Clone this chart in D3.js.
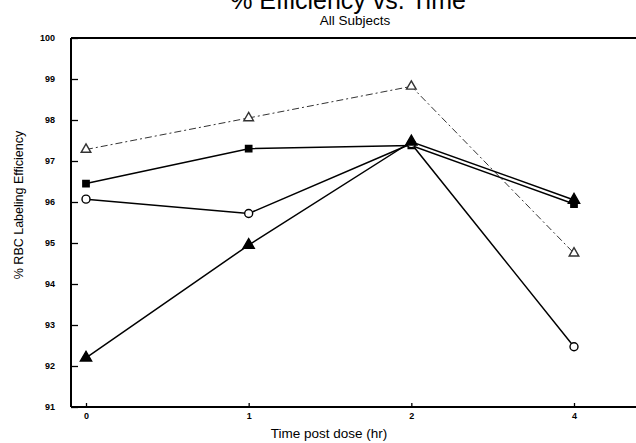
<!DOCTYPE html>
<html>
<head>
<meta charset="utf-8">
<script src="https://cdn.jsdelivr.net/npm/d3@7"></script>
<style>
  body { margin: 0; background: #fff; }
  svg { display: block; font-family: "Liberation Sans", Arial, sans-serif; }
</style>
</head>
<body>
<div id="chart"></div>
<script>
const timeLabels = ["0", "1", "2", "4"];
const yTicks = [91, 92, 93, 94, 95, 96, 97, 98, 99, 100];

// one array per subject group
const openTriangle = [97.28, 98.05, 98.82, 94.75];
const filledSquare = [96.45, 97.3, 97.38, 95.95];
const openCircle = [96.07, 95.72, 97.42, 92.47];
const filledTriangle = [92.2, 94.95, 97.47, 96.05];

const width = 636;
const height = 443;
const axisLeftX = 71;
const axisBottomY = 407;
const axisTopY = 38;

const svg = d3.select("#chart").append("svg")
  .attr("width", width)
  .attr("height", height);

const x = d3.scalePoint()
  .domain(timeLabels)
  .range([86, 574]);

const y = d3.scaleLinear()
  .domain([91, 100])
  .range([axisBottomY, axisTopY]);

// frame: left, bottom and top lines (no right edge in the original)
svg.append("line")
  .attr("x1", axisLeftX).attr("x2", axisLeftX)
  .attr("y1", axisTopY).attr("y2", axisBottomY)
  .attr("stroke", "#000").attr("stroke-width", 2);
svg.append("line")
  .attr("x1", axisLeftX).attr("x2", width)
  .attr("y1", axisBottomY).attr("y2", axisBottomY)
  .attr("stroke", "#000").attr("stroke-width", 2);
svg.append("line")
  .attr("x1", axisLeftX).attr("x2", width)
  .attr("y1", axisTopY).attr("y2", axisTopY)
  .attr("stroke", "#000").attr("stroke-width", 2);

const yAxis = svg.append("g")
  .attr("transform", `translate(${axisLeftX},0)`)
  .call(d3.axisLeft(y).tickValues(yTicks).tickSize(-7).tickSizeOuter(0).tickPadding(16));
yAxis.select(".domain").remove();

const xAxis = svg.append("g")
  .attr("transform", `translate(0,${axisBottomY})`)
  .call(d3.axisBottom(x).tickSize(-4).tickSizeOuter(0).tickPadding(6));
xAxis.select(".domain").remove();

svg.selectAll(".tick line").attr("stroke", "#000").attr("stroke-width", 1.3);
svg.selectAll(".tick text")
  .attr("fill", "#000")
  .style("font-size", "9px")
  .style("font-weight", "bold");

// titles (the main title is clipped by the top edge in the original)
svg.append("text")
  .attr("x", 348).attr("y", 9)
  .attr("text-anchor", "middle")
  .style("font-size", "25px")
  .text("% Efficiency vs. Time");

svg.append("text")
  .attr("x", 355).attr("y", 25)
  .attr("text-anchor", "middle")
  .style("font-size", "13.5px")
  .text("All Subjects");

svg.append("text")
  .attr("x", 329).attr("y", 438)
  .attr("text-anchor", "middle")
  .style("font-size", "13.5px")
  .text("Time post dose (hr)");

svg.append("text")
  .attr("transform", "translate(23,205) rotate(-90)")
  .attr("text-anchor", "middle")
  .style("font-size", "12.5px")
  .text("% RBC Labeling Efficiency");

const series = [
  { values: openTriangle, symbol: d3.symbolTriangle, size: 40, fill: "#fff", stroke: "#333", dash: "7,3,2,3", width: 1 },
  { values: filledSquare, symbol: d3.symbolSquare, size: 40, fill: "#000", stroke: "#000", dash: null, width: 1.5 },
  { values: openCircle, symbol: d3.symbolCircle, size: 50, fill: "#fff", stroke: "#000", dash: null, width: 1.5 },
  { values: filledTriangle, symbol: d3.symbolTriangle, size: 55, fill: "#000", stroke: "#000", dash: null, width: 1.5 }
];

const line = d3.line()
  .x((d, i) => x(timeLabels[i]))
  .y(d => y(d));

series.forEach(s => {
  svg.append("path")
    .datum(s.values)
    .attr("d", line)
    .attr("fill", "none")
    .attr("stroke", s.stroke)
    .attr("stroke-width", s.width)
    .attr("stroke-dasharray", s.dash);

  svg.selectAll(null)
    .data(s.values)
    .join("path")
    .attr("transform", (d, i) => `translate(${x(timeLabels[i])},${y(d)})`)
    .attr("d", d3.symbol().type(s.symbol).size(s.size))
    .attr("fill", s.fill)
    .attr("stroke", s.stroke)
    .attr("stroke-width", 1.4);
});
</script>
</body>
</html>
